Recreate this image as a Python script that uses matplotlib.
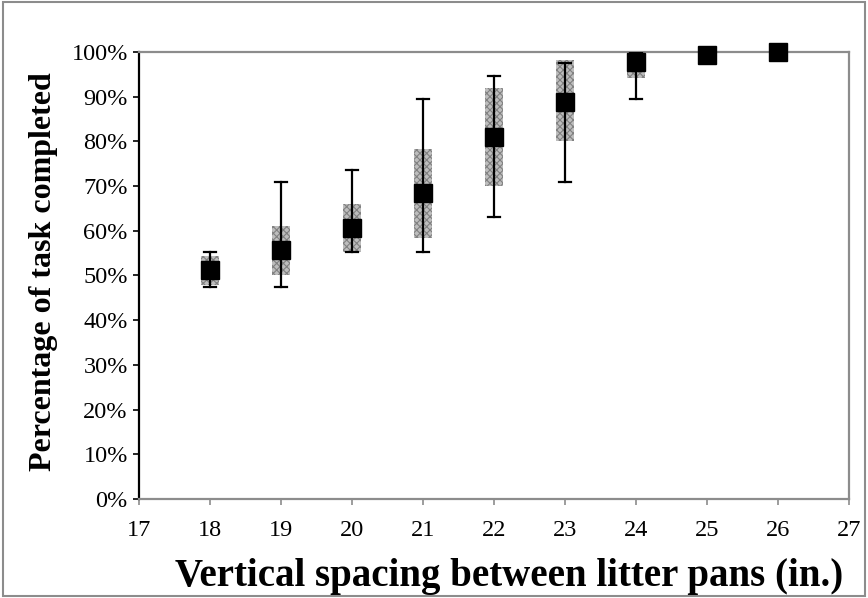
import matplotlib.pyplot as plt
from matplotlib.patches import Rectangle

# spacing (in.) and completion percentages
spacing = [18, 19, 20, 21, 22, 23, 24, 25, 26]
mean_pct = [51.2, 55.7, 60.6, 68.4, 80.9, 88.9, 97.7, 99.4, 100.0]
box_low = [47.9, 50.0, 55.2, 58.5, 70.1, 80.1, 94.3, 99.4, 100.0]
box_high = [54.4, 61.1, 66.1, 78.2, 91.9, 98.2, 100.0, 99.4, 100.0]
whisk_low = [47.4, 47.4, 55.2, 55.2, 63.2, 71.0, 89.4, 99.4, 100.0]
whisk_high = [55.3, 71.0, 73.6, 89.4, 94.7, 97.5, 100.0, 99.4, 100.0]

plt.rcParams['font.family'] = ['Liberation Serif', 'DejaVu Serif']
plt.rcParams['hatch.linewidth'] = 0.8

fig = plt.figure(figsize=(8.68, 5.98), dpi=100)
ax = fig.add_axes([0.160, 0.1656, 0.818, 0.7474])

box_w = 0.26
cap_w = 0.16
for i in range(len(spacing)):
    x = spacing[i]
    # shaded box
    ax.add_patch(Rectangle((x - box_w / 2, box_low[i]), box_w,
                           box_high[i] - box_low[i],
                           facecolor='#bdbdbd', edgecolor='#808080',
                           hatch='xxxxx', linewidth=0, zorder=2))
    # whisker and caps
    if whisk_high[i] > whisk_low[i]:
        ax.plot([x, x], [whisk_low[i], whisk_high[i]], color='black', lw=1.6, zorder=3)
        ax.plot([x - cap_w / 2, x + cap_w / 2], [whisk_low[i]] * 2, color='black', lw=1.6, zorder=3)
        ax.plot([x - cap_w / 2, x + cap_w / 2], [whisk_high[i]] * 2, color='black', lw=1.6, zorder=3)

ax.plot(spacing, mean_pct, linestyle='none', marker='s', markersize=13.5,
        color='black', zorder=4, clip_on=False)

ax.set_xlim(17, 27)
ax.set_ylim(0, 100)
ax.set_xticks(range(17, 28))
ax.set_yticks(range(0, 101, 10))
ax.set_yticklabels([f'{v}%' for v in range(0, 101, 10)])

ax.spines['left'].set_color('black')
ax.spines['left'].set_linewidth(1.6)
for s in ['bottom', 'top', 'right']:
    ax.spines[s].set_color('#8c8c8c')
    ax.spines[s].set_linewidth(1.6)

ax.tick_params(axis='y', direction='out', length=4.5, width=1.2, color='black',
               labelsize=17.5, pad=3.5)
ax.tick_params(axis='x', direction='out', length=4.5, width=1.2, color='#8c8c8c',
               labelsize=17.5, pad=11)

ax.set_xlabel('Vertical spacing between litter pans (in.)', fontsize=28,
              fontweight='bold')
ax.set_ylabel('Percentage of task completed', fontsize=23,
              fontweight='bold')
ax.xaxis.set_label_coords(0.522, -0.132)
ax.yaxis.set_label_coords(-0.114, 0.508)

# outer border of the chart area
fig.patches.append(Rectangle((0.003, 0.004), 0.994, 0.992, transform=fig.transFigure,
                             fill=False, edgecolor='#8c8c8c', linewidth=1.5))

fig.savefig('out.png', dpi=100)
